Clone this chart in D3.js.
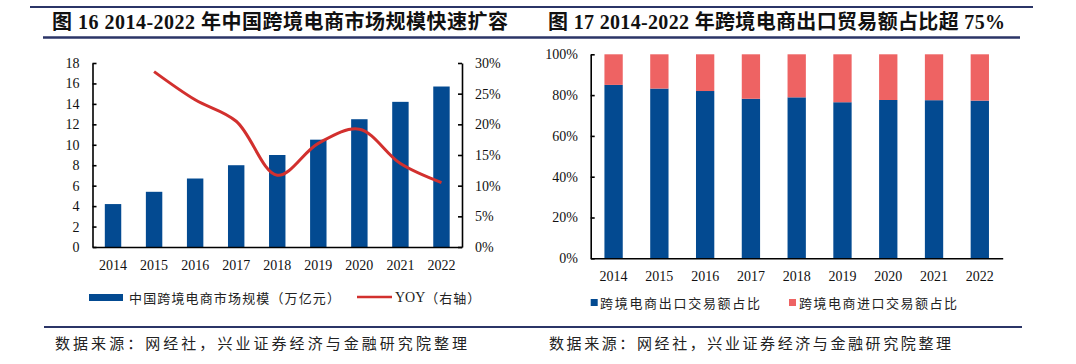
<!DOCTYPE html>
<html><head><meta charset="utf-8">
<script src="https://cdn.jsdelivr.net/npm/d3@7"></script>
<style>body{margin:0;background:#fff} svg{display:block}</style>
</head><body>
<svg id="c" width="1076" height="364"></svg>
<script>
// ---- data ----
const years = ["2014","2015","2016","2017","2018","2019","2020","2021","2022"];
const marketSize = [4.2, 5.4, 6.7, 8.0, 9.0, 10.5, 12.5, 14.2, 15.7];           // 万亿元
const yoy = [null, 0.286, 0.240, 0.205, 0.117, 0.169, 0.192, 0.136, 0.105];       // 右轴
const exportShare = [0.850, 0.832, 0.820, 0.782, 0.789, 0.765, 0.776, 0.775, 0.773];
const importShare = [0.150, 0.168, 0.180, 0.218, 0.211, 0.235, 0.224, 0.225, 0.227];
const leftTicks = [0, 2, 4, 6, 8, 10, 12, 14, 16, 18];
const rightTicks = [0, 0.05, 0.10, 0.15, 0.20, 0.25, 0.30];
const pctTicks = [0, 0.2, 0.4, 0.6, 0.8, 1.0];
const title1 = "图 16 2014-2022 年中国跨境电商市场规模快速扩容";
const title2 = "图 17 2014-2022 年跨境电商出口贸易额占比超 75%";
const legend1 = ["中国跨境电商市场规模（万亿元）", "YOY（右轴）"];
const legend2 = ["跨境电商出口交易额占比", "跨境电商进口交易额占比"];
const sourceText = "数据来源：网经社，兴业证券经济与金融研究院整理";

// ---- style ----
const BLUE = "#034a91", PINK = "#ee6363", RED = "#d2302e", NAVY = "#2b3567";
const SERIF = "'Liberation Serif','Times New Roman',serif";
const CJK = "'Liberation Serif','Noto Sans CJK SC',sans-serif";

const svg = d3.select("#c");

// titles & rules
svg.append("line").attr("x1",30).attr("x2",1033).attr("y1",7).attr("y2",7)
  .attr("stroke",NAVY).attr("stroke-width",1.8);
svg.append("line").attr("x1",43).attr("x2",1020).attr("y1",37.5).attr("y2",37.5)
  .attr("stroke",NAVY).attr("stroke-width",2.6);
[[title1,52,456],[title2,548,457]].forEach(([t,x,w])=>{
  svg.append("text").attr("x",x).attr("y",22).attr("dominant-baseline","central")
    .attr("font-family",CJK).attr("font-weight","bold").attr("font-size",20)
    .attr("textLength",w).attr("lengthAdjust","spacing").attr("fill","#111").text(t);
});

// source
svg.append("line").attr("x1",44).attr("x2",1022).attr("y1",327).attr("y2",327)
  .attr("stroke",NAVY).attr("stroke-width",2);
[[55,412],[549,402]].forEach(([x,w])=>{
  svg.append("text").attr("x",x).attr("y",342).attr("dominant-baseline","central")
    .attr("font-family","'Noto Sans CJK SC',sans-serif").attr("font-size",15)
    .attr("textLength",w).attr("lengthAdjust","spacing").attr("fill","#222").text(sourceText);
});

function styleAxis(g){
  g.select(".domain").attr("stroke","#000").attr("stroke-width",1.6);
  g.selectAll(".tick line").attr("stroke","#000").attr("stroke-width",1.6);
  g.selectAll(".tick text").attr("font-family",SERIF).attr("font-size",14).attr("fill","#111");
}

// ---- left chart ----
const xL = d3.scaleBand().domain(years).range([92.5, 462]).paddingInner(0.6).paddingOuter(0.3);
const yL = d3.scaleLinear().domain([0, 18]).range([247, 63]);
const yR = d3.scaleLinear().domain([0, 0.30]).range([247, 63]);
const gL = svg.append("g");

gL.selectAll("rect.bar").data(years).join("rect").attr("class","bar")
  .attr("x", d=>xL(d)).attr("width", xL.bandwidth())
  .attr("y", (d,i)=>yL(marketSize[i])).attr("height",(d,i)=>yL(0)-yL(marketSize[i]))
  .attr("fill", BLUE);

const lineData = years.map((d,i)=>({x:d, v:yoy[i]})).filter(d=>d.v!=null);
gL.append("path").datum(lineData)
  .attr("d", d3.line().x(d=>xL(d.x)+xL.bandwidth()/2).y(d=>yR(d.v)).curve(d3.curveCatmullRom.alpha(0.5)))
  .attr("fill","none").attr("stroke",RED).attr("stroke-width",3);

gL.append("g").attr("transform","translate(92.5,0)")
  .call(d3.axisLeft(yL).tickValues(leftTicks).tickSizeInner(-4).tickSizeOuter(0).tickPadding(13).tickFormat(d3.format("d")))
  .call(styleAxis);
gL.append("g").attr("transform","translate(462,0)")
  .call(d3.axisRight(yR).tickValues(rightTicks).tickSizeInner(-4).tickSizeOuter(0).tickPadding(13).tickFormat(d3.format(".0%")))
  .call(styleAxis);
gL.append("g").attr("transform","translate(0,247)")
  .call(d3.axisBottom(xL).tickSize(0).tickPadding(13))
  .call(styleAxis);

// left legend
svg.append("rect").attr("x",89).attr("y",294).attr("width",34).attr("height",7).attr("fill",BLUE);
svg.append("text").attr("x",129).attr("y",297).attr("dominant-baseline","central")
  .attr("font-family","'Noto Sans CJK SC',sans-serif").attr("font-size",13)
  .attr("textLength",211).attr("lengthAdjust","spacing").attr("fill","#222").text(legend1[0]);
svg.append("line").attr("x1",357).attr("x2",392).attr("y1",297).attr("y2",297).attr("stroke",RED).attr("stroke-width",2.5);
const yt = svg.append("text").attr("x",395).attr("y",297).attr("dominant-baseline","central").attr("fill","#222");
yt.append("tspan").attr("font-family",SERIF).attr("font-size",14).text("YOY");
yt.append("tspan").attr("font-family","'Noto Sans CJK SC',sans-serif").attr("font-size",13)
  .attr("letter-spacing",1).text(legend1[1].slice(3));

// ---- right chart ----
const xP = d3.scaleBand().domain(years).range([590.7, 1002.7]).paddingInner(0.6).paddingOuter(0.3);
const yP = d3.scaleLinear().domain([0, 1]).range([258.3, 54.3]);
const table = years.map((y,i)=>({year:y, exp:exportShare[i], imp:importShare[i]}));
const stack = d3.stack().keys(["exp","imp"])(table);
const colors = {exp: BLUE, imp: PINK};
const gP = svg.append("g");
gP.selectAll("g.s").data(stack).join("g").attr("class","s").attr("fill",d=>colors[d.key])
  .selectAll("rect").data(d=>d).join("rect")
  .attr("x", d=>xP(d.data.year)).attr("width", xP.bandwidth())
  .attr("y", d=>yP(d[1])).attr("height", d=>yP(d[0])-yP(d[1]));

gP.append("g").attr("transform","translate(590.7,0)")
  .call(d3.axisLeft(yP).tickValues(pctTicks).tickSizeInner(-4).tickSizeOuter(0).tickPadding(12.7).tickFormat(d3.format(".0%")))
  .call(styleAxis);
gP.append("g").attr("transform","translate(0,258.3)")
  .call(d3.axisBottom(xP).tickSize(0).tickPadding(13))
  .call(styleAxis);

// right legend
svg.append("rect").attr("x",590.7).attr("y",299).attr("width",7).attr("height",7).attr("fill",BLUE);
svg.append("text").attr("x",600).attr("y",302.5).attr("dominant-baseline","central")
  .attr("font-family","'Noto Sans CJK SC',sans-serif").attr("font-size",13)
  .attr("textLength",160).attr("lengthAdjust","spacing").attr("fill","#222").text(legend2[0]);
svg.append("rect").attr("x",789).attr("y",299).attr("width",7).attr("height",7).attr("fill",PINK);
svg.append("text").attr("x",799).attr("y",302.5).attr("dominant-baseline","central")
  .attr("font-family","'Noto Sans CJK SC',sans-serif").attr("font-size",13)
  .attr("textLength",158).attr("lengthAdjust","spacing").attr("fill","#222").text(legend2[1]);
</script>
</body></html>
